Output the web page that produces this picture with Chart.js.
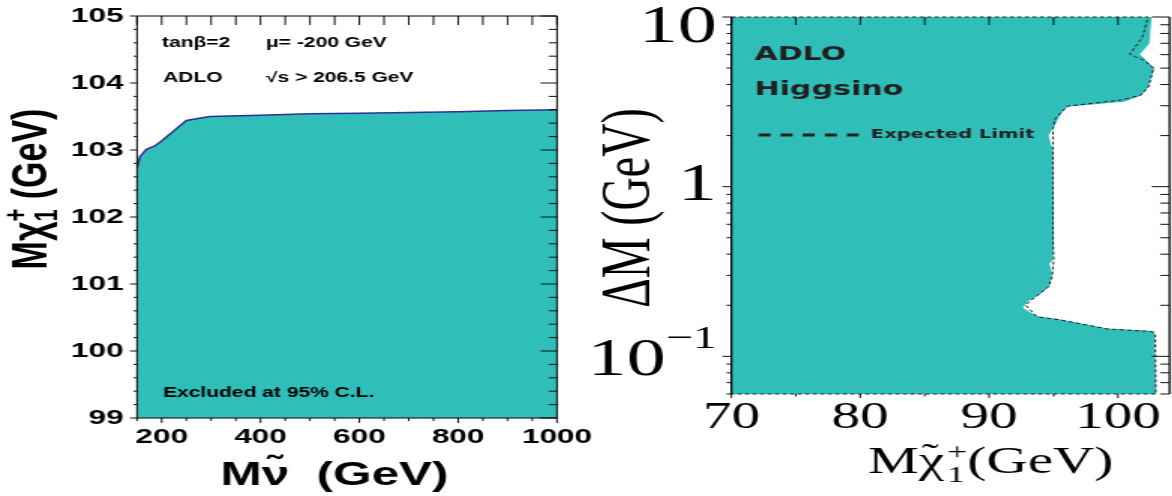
<!DOCTYPE html>
<html>
<head>
<meta charset="utf-8">
<script src="https://cdn.jsdelivr.net/npm/chart.js@4.4.1/dist/chart.umd.min.js"></script>
<style>
  html, body { margin: 0; padding: 0; background: #fff; }
  body { width: 1172px; height: 496px; position: relative; overflow: hidden; }
  /* the original figure is stretched sideways, so each panel is drawn narrow and widened 1.5x */
  .panel { position: absolute; top: 0; height: 496px; transform: scaleX(1.5); transform-origin: 0 0; }
  #p1 { left: 0; width: 400px; }
  #p2 { left: 580px; width: 394.667px; }
</style>
</head>
<body>
<div class="panel" id="p1"><canvas id="left"></canvas></div>
<div class="panel" id="p2"><canvas id="right"></canvas></div>
<script>
// ====== left panel: chargino limit vs sneutrino mass ======
const snuMass = [150, 156, 169, 186, 199, 250, 297, 400, 500, 600, 700, 800, 900, 1000];
const charLim = [102.73, 102.90, 103.01, 103.06, 103.13, 103.44, 103.50, 103.52, 103.54, 103.55, 103.56, 103.57, 103.59, 103.60];
const leftXTicks = [200, 400, 600, 800, 1000];
const leftYTicks = [99, 100, 101, 102, 103, 104, 105];

// ====== right panel: higgsino, ΔM vs chargino mass ======
// observed excluded region boundary (top -> bottom)
const obsM  = [102.55, 102.37, 101.64, 102.76, 102.29, 101.77, 100.47, 96.06, 95.53, 94.96, 94.54, 94.89, 94.96, 94.89, 94.62, 94.83, 94.62, 93.84, 92.94, 92.55, 93.72, 95.53, 99.17, 102.76, 102.89];
const obsDM = [10, 6.97, 6.03, 5.0, 3.87, 3.46, 3.19, 2.98, 2.70, 2.25, 2.0, 1.64, 0.486, 0.37, 0.351, 0.309, 0.258, 0.231, 0.211, 0.193, 0.171, 0.164, 0.145, 0.140, 0.06];
// expected limit contour
const expM  = [70, 102.34, 101.90, 100.91, 101.98, 102.76, 102.37, 101.77, 100.21, 96.06, 95.14, 94.96, 94.96, 95.01, 94.89, 94.62, 93.84, 92.81, 93.72, 95.53, 99.17, 102.60, 102.89, 102.94, 70];
const expDM = [10, 10, 7.62, 6.03, 5.56, 5.0, 3.87, 3.46, 3.24, 2.98, 2.53, 2.2, 0.486, 0.37, 0.296, 0.258, 0.231, 0.201, 0.171, 0.164, 0.145, 0.14, 0.134, 0.06, 0.06];
const rightXTicks = [70, 80, 90, 100];
const rightYTicks = [0.1, 1, 10];

const TEAL = '#30beb9';
const SANS = '"Liberation Sans", Arial, sans-serif';
const SERIF = '"Liberation Serif", "Times New Roman", serif';
const GEO = '"DejaVu Sans", sans-serif';

// minor tick positions
const leftXMinor = [];
for (let v = 150; v <= 1000; v += 50) if (v % 200) leftXMinor.push(v);
const leftYMinor = [];
for (let i = 0; i <= 30; i++) if (i % 5) leftYMinor.push(99 + i * 0.2);
const rightXMinor = [75, 85, 95];
const rightYMinor = [];
for (const d of [0.01, 0.1, 1]) for (let m = 2; m <= 9; m++) {
  const v = m * d;
  if (v >= 0.06 && v < 10) rightYMinor.push(v);
}

// text with sub/superscripts: parts = {t, size, dy, dx, stack}
function drawRich(ctx, family, weight, parts, x, y, align){
  const segs = [];
  let cur = 0, prevStart = 0, prevW = 0;
  for (const p of parts){
    ctx.font = `${weight} ${p.size}px ${family}`;
    const w = ctx.measureText(p.t).width + (p.dx || 0);
    let start = cur;
    if (p.stack){ start = prevStart; cur = prevStart + Math.max(prevW, w); }
    else cur = start + w;
    segs.push({ ...p, x: start + (p.dx || 0) });
    prevStart = start; prevW = p.stack ? Math.max(prevW, w) : w;
  }
  const x0 = align === 'center' ? x - cur / 2 : align === 'right' ? x - cur : x;
  ctx.textAlign = 'left';
  ctx.textBaseline = 'alphabetic';
  for (const s of segs){
    ctx.font = `${weight} ${s.size}px ${family}`;
    ctx.fillText(s.t, x0 + s.x, y + (s.dy || 0));
  }
}

// ticks on all four sides + frame
function makeTicks(cfg){
  return {
    id: 'frameTicks',
    afterDraw(chart){
      const { ctx, chartArea: a } = chart;
      const sx = chart.scales.x, sy = chart.scales.y;
      ctx.save();
      ctx.strokeStyle = '#111';
      ctx.lineWidth = 1;
      ctx.beginPath();
      for (const [vals, top, bot] of cfg.x){
        for (const v of vals){
          const px = sx.getPixelForValue(v);
          if (top){ ctx.moveTo(px, a.top); ctx.lineTo(px, a.top + top); }
          if (bot){ ctx.moveTo(px, a.bottom); ctx.lineTo(px, a.bottom + bot); }
        }
      }
      for (const [vals, lft, rgt] of cfg.y){
        for (const v of vals){
          const py = sy.getPixelForValue(v);
          if (lft){ ctx.moveTo(a.left - lft, py); ctx.lineTo(a.left, py); }
          if (rgt){ ctx.moveTo(a.right - rgt, py); ctx.lineTo(a.right, py); }
        }
      }
      ctx.stroke();
      ctx.strokeStyle = '#000';
      ctx.lineWidth = cfg.frameWidth;
      ctx.beginPath();
      if (cfg.frame.includes('l')){ ctx.moveTo(a.left, a.top); ctx.lineTo(a.left, a.bottom); }
      if (cfg.frame.includes('r')){ ctx.moveTo(a.right, a.top); ctx.lineTo(a.right, a.bottom); }
      if (cfg.frame.includes('t')){ ctx.moveTo(a.left, a.top); ctx.lineTo(a.right, a.top); }
      if (cfg.frame.includes('b')){ ctx.moveTo(a.left, a.bottom); ctx.lineTo(a.right, a.bottom); }
      ctx.stroke();
      ctx.restore();
    }
  };
}

const leftText = {
  id: 'leftText',
  afterDraw(chart){
    const ctx = chart.ctx;
    ctx.save();
    ctx.fillStyle = '#000';
    ctx.font = `bold 14px ${SANS}`;
    ctx.textAlign = 'left';
    ctx.textBaseline = 'middle';
    ctx.fillText('tanβ=2', 108, 43);
    ctx.fillText('μ= -200 GeV', 177.3, 43);
    ctx.fillText('ADLO', 108.7, 78);
    ctx.fillText('√s > 206.5 GeV', 177.3, 78);
    ctx.fillText('Excluded at 95% C.L.', 108.7, 393);

    // y title
    ctx.save();
    ctx.translate(19.3, 189);
    ctx.rotate(-Math.PI / 2);
    drawRich(ctx, SANS, 'bold', [
      { t: 'M', size: 34 }, { t: 'χ', size: 34 },
      { t: '+', size: 22, dy: -13 }, { t: '1', size: 22, dy: 7, stack: true },
      { t: ' (GeV)', size: 34 }
    ], 0, 12, 'center');
    ctx.restore();

    // x title
    drawRich(ctx, SANS, 'bold', [
      { t: 'Mν̃  (GeV)', size: 33 }
    ], 223, 485, 'center');
    ctx.restore();
  }
};

const rightText = {
  id: 'rightText',
  afterDraw(chart){
    const ctx = chart.ctx;
    const sy = chart.scales.y;
    ctx.save();
    ctx.fillStyle = '#231f20';
    ctx.textAlign = 'left';
    ctx.textBaseline = 'middle';
    ctx.font = `bold 20px ${GEO}`;
    ctx.fillText('ADLO', 116, 55);
    ctx.fillText('Higgsino', 116, 90);
    ctx.font = `bold 13px ${GEO}`;
    ctx.fillText('Expected Limit', 193.3, 135);
    ctx.strokeStyle = '#231f20';
    ctx.lineWidth = 3;
    ctx.setLineDash([8, 6.7]);
    ctx.beginPath(); ctx.moveTo(118.7, 135); ctx.lineTo(185.3, 135); ctx.stroke();
    ctx.setLineDash([]);

    // y tick labels (log decades)
    ctx.fillStyle = '#000';
    const labR = 91;
    for (const v of rightYTicks){
      const py = sy.getPixelForValue(v);
      if (v < 1){
        drawRich(ctx, SERIF, 'normal', [
          { t: '10', size: 52, dy: 8 }, { t: '−1', size: 32, dy: -19 }
        ], labR, py + 0.338 * 32, 'right');
      } else {
        ctx.font = `52px ${SERIF}`;
        ctx.textAlign = 'right';
        ctx.textBaseline = 'middle';
        ctx.fillText(String(v), labR, Math.max(py, 28));
      }
    }

    // y title
    ctx.save();
    ctx.translate(31.3, 208);
    ctx.rotate(-Math.PI / 2);
    drawRich(ctx, SERIF, 'normal', [{ t: 'ΔM (GeV)', size: 46 }], 0, 15, 'center');
    ctx.restore();

    // x title
    drawRich(ctx, SERIF, 'normal', [
      { t: 'M', size: 38 }, { t: 'χ', size: 38 },
      { t: '˜', size: 34, dy: -6, dx: 2, stack: true },
      { t: '+', size: 24, dy: -14, dx: 2 }, { t: '1', size: 24, dy: 9, dx: 2, stack: true },
      { t: '(GeV)', size: 38 }
    ], 273, 473, 'center');
    ctx.restore();
  }
};

const baseOpts = {
  responsive: true,
  maintainAspectRatio: false,
  animation: false,
  events: [],
  plugins: { legend: { display: false }, tooltip: { enabled: false } }
};

// ====== left chart ======
new Chart(document.getElementById('left'), {
  type: 'scatter',
  data: {
    datasets: [{
      data: snuMass.map((x, i) => ({ x, y: charLim[i] })),
      showLine: true,
      borderColor: '#2e3192',
      borderWidth: 1.5,
      pointRadius: 0,
      backgroundColor: TEAL,
      fill: 'start'
    }]
  },
  options: {
    ...baseOpts,
    layout: { padding: { top: 16, right: 28.67, left: 0, bottom: 0 } },
    scales: {
      x: {
        type: 'linear', min: 150, max: 1000,
        grid: { display: false, drawTicks: false }, border: { display: false },
        afterBuildTicks: s => { s.ticks = leftXTicks.map(v => ({ value: v })); },
        afterFit: s => { s.height = 78; s.paddingLeft = 0; s.paddingRight = 0; },
        ticks: { padding: 6.4, color: '#000', maxRotation: 0, autoSkip: false,
                 callback: v => String(v),
                 font: { family: SANS, weight: 'bold', size: 21 } }
      },
      y: {
        type: 'linear', min: 99, max: 105,
        grid: { display: false, drawTicks: false }, border: { display: false },
        afterBuildTicks: s => { s.ticks = leftYTicks.map(v => ({ value: v })); },
        afterFit: s => { s.width = 91.33; s.paddingTop = 0; s.paddingBottom = 0; },
        ticks: { padding: 9, color: '#000', callback: v => String(v),
                 font: { family: SANS, weight: 'bold', size: 21 } }
      }
    }
  },
  plugins: [makeTicks({
    x: [[leftXTicks, 9, 5], [leftXMinor, 9, 3]],
    y: [[leftYTicks, 4.7, 11], [leftYMinor, 2.3, 5.5]],
    frame: 'lrtb', frameWidth: 1
  }), leftText]
});

// ====== right chart ======
const obsShape = [{ x: 70, y: 10 }]
  .concat(obsM.map((x, i) => ({ x, y: obsDM[i] })))
  .concat([{ x: 70, y: 0.06 }]);

new Chart(document.getElementById('right'), {
  type: 'scatter',
  data: {
    datasets: [
      { data: obsShape, showLine: true, borderColor: TEAL, borderWidth: 1, pointRadius: 0,
        backgroundColor: TEAL, fill: 'shape', order: 2 },
      { data: expM.map((x, i) => ({ x, y: expDM[i] })), showLine: true, borderColor: '#222',
        borderWidth: 1, borderDash: [3, 2], pointRadius: 0, fill: false, clip: false, order: 1 }
    ]
  },
  options: {
    ...baseOpts,
    layout: { padding: { top: 17, right: 2.67, left: 0, bottom: 0 } },
    scales: {
      x: {
        type: 'linear', min: 70, max: 104,
        grid: { display: false, drawTicks: false }, border: { display: false },
        afterBuildTicks: s => { s.ticks = rightXTicks.map(v => ({ value: v })); },
        afterFit: s => { s.height = 102; s.paddingLeft = 0; s.paddingRight = 0; },
        ticks: { padding: 1, color: '#000', maxRotation: 0, autoSkip: false,
                 callback: v => String(v),
                 font: { family: SERIF, size: 38 } }
      },
      y: {
        type: 'logarithmic', min: 0.06, max: 10,
        grid: { display: false, drawTicks: false }, border: { display: false },
        afterFit: s => { s.width = 100.67; s.paddingTop = 0; s.paddingBottom = 0; },
        ticks: { display: false }
      }
    }
  },
  plugins: [makeTicks({
    x: [[rightXTicks, 8, 4], [rightXMinor, 8, 2.5]],
    y: [[rightYTicks, 6, 11.8], [rightYMinor, 3.3, 6.2]],
    frame: 'lr', frameWidth: 1.3
  }), rightText]
});
</script>
</body>
</html>
